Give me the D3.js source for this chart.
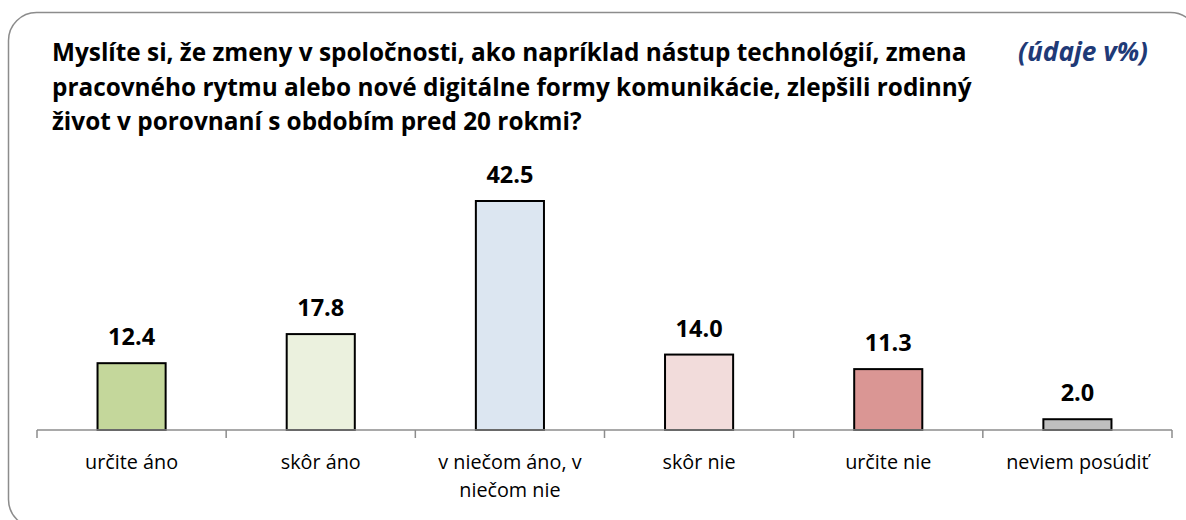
<!DOCTYPE html>
<html>
<head>
<meta charset="utf-8">
<script src="https://cdn.jsdelivr.net/npm/d3@7"></script>
<style>
  body { margin: 0; background: #fff; }
  svg { display: block; }
</style>
</head>
<body>
<svg id="chart"></svg>
<script>
// data
const categories = ['určite áno', 'skôr áno', 'v niečom áno, v niečom nie', 'skôr nie', 'určite nie', 'neviem posúdiť'];
const values = [12.4, 17.8, 42.5, 14.0, 11.3, 2.0];
const barColors = ['#C4D79B', '#EBF1DE', '#DCE6F1', '#F2DCDB', '#DA9694', '#BFBFBF'];
const titleLines = [
    'Myslíte si, že zmeny v spoločnosti, ako napríklad nástup technológií, zmena',
    'pracovného rytmu alebo nové digitálne formy komunikácie, zlepšili rodinný',
    'život v porovnaní s obdobím pred 20 rokmi?'
];
const unitNote = '(údaje v%)';

const width = 1186, height = 520;
const font = '"Open Sans", Lato, sans-serif';

const svg = d3.select('#chart')
    .attr('width', width)
    .attr('height', height);

// rounded frame, runs off the right and bottom edges
svg.append('rect')
    .attr('x', 8.5).attr('y', 12.5)
    .attr('width', 1190).attr('height', 515)
    .attr('rx', 28).attr('ry', 28)
    .attr('fill', 'none')
    .attr('stroke', '#8c8c8c')
    .attr('stroke-width', 1.5);

// shrink/grow a text's font so its first line is as wide as in the picture
function fitWidth(sel, target, start) {
    sel.attr('font-size', start);
    const node = sel.select('tspan').node() || sel.node();
    const w = node.getComputedTextLength();
    sel.attr('font-size', start * target / w);
}

// title
const title = svg.append('text')
    .attr('font-family', font)
    .attr('font-weight', 'bold')
    .attr('fill', '#000');
title.selectAll('tspan')
    .data(titleLines)
    .join('tspan')
    .attr('x', 52)
    .attr('y', (d, i) => 61 + i * 34.5)
    .text(d => d);
fitWidth(title, 915, 24);

const note = svg.append('text')
    .attr('x', 1148).attr('y', 61)
    .attr('text-anchor', 'end')
    .attr('font-family', font)
    .attr('font-weight', 'bold')
    .attr('font-style', 'italic')
    .attr('fill', '#1F3A77')
    .text(unitNote);
fitWidth(note, 130, 24);

// scales
const x = d3.scaleBand()
    .domain(categories)
    .range([37, 1172])
    .paddingInner(0)
    .paddingOuter(0);

const y = d3.scaleLinear()
    .domain([0, 42.5])
    .range([430, 201]);

const barW = x.bandwidth() * 0.36;

// bars
svg.append('g')
    .selectAll('rect')
    .data(values)
    .join('rect')
    .attr('x', (d, i) => x(categories[i]) + x.bandwidth() / 2 - barW / 2)
    .attr('y', d => y(d))
    .attr('width', barW)
    .attr('height', d => y(0) - y(d))
    .attr('fill', (d, i) => barColors[i])
    .attr('stroke', '#000')
    .attr('stroke-width', 2);

// value labels
svg.append('g')
    .selectAll('text')
    .data(values)
    .join('text')
    .attr('x', (d, i) => x(categories[i]) + x.bandwidth() / 2)
    .attr('y', d => y(d) - 18)
    .attr('text-anchor', 'middle')
    .attr('font-family', font)
    .attr('font-weight', 'bold')
    .attr('font-size', 23.5)
    .text(d => d.toFixed(1));

// x axis
const axis = svg.append('g')
    .attr('transform', `translate(0, ${y(0)})`);
axis.append('line')
    .attr('x1', 37).attr('x2', 1172)
    .attr('stroke', '#8c8c8c').attr('stroke-width', 1.5);
axis.selectAll('.tick')
    .data(d3.range(categories.length + 1))
    .join('line')
    .attr('class', 'tick')
    .attr('x1', i => i < categories.length ? x(categories[i]) : x.range()[1])
    .attr('x2', i => i < categories.length ? x(categories[i]) : x.range()[1])
    .attr('y1', 0).attr('y2', 8)
    .attr('stroke', '#8c8c8c').attr('stroke-width', 1.5);

// category labels, wrapped like the reference
const wrapped = categories.map(c => c === 'v niečom áno, v niečom nie' ? ['v niečom áno, v', 'niečom nie'] : [c]);
const catLabels = svg.append('g')
    .selectAll('text')
    .data(wrapped)
    .join('text')
    .attr('text-anchor', 'middle')
    .attr('font-family', font)
    .attr('font-size', 19.8)
    .attr('fill', '#000');
catLabels.selectAll('tspan')
    .data((d, i) => d.map(line => ({ line, i })))
    .join('tspan')
    .attr('x', d => x(categories[d.i]) + x.bandwidth() / 2)
    .attr('y', (d, j) => 469 + j * 28)
    .text(d => d.line);
</script>
</body>
</html>
